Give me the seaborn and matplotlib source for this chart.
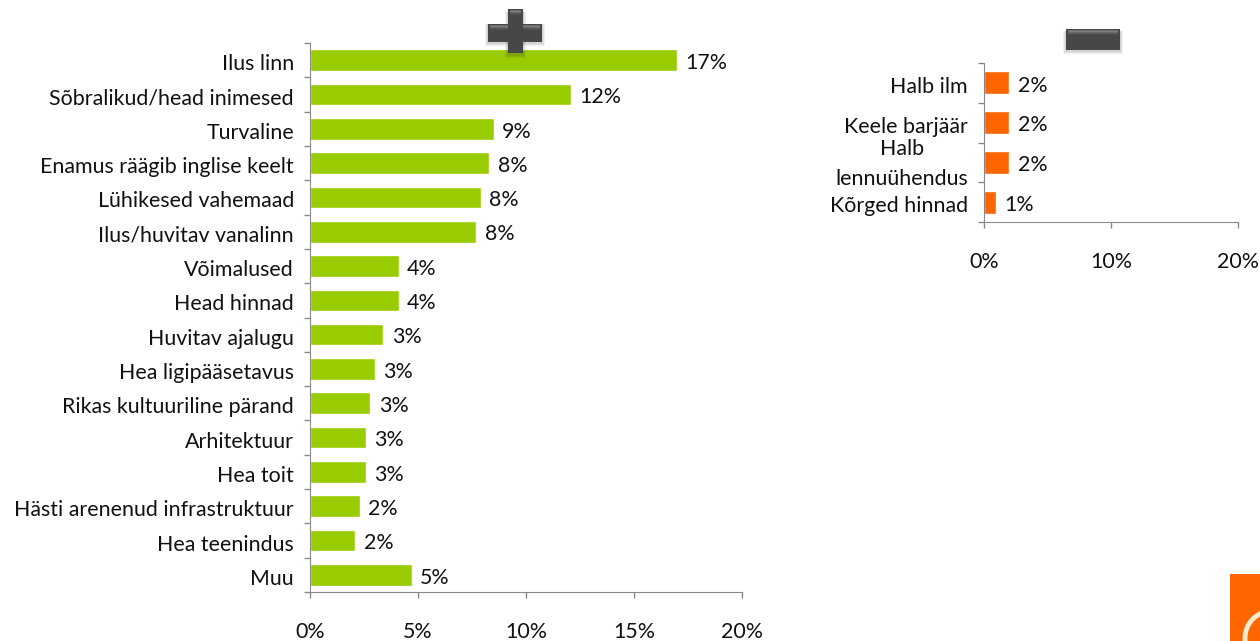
import matplotlib
matplotlib.use('Agg')
import matplotlib.pyplot as plt
from matplotlib.patches import Rectangle, Circle
from matplotlib.ticker import FixedLocator, FuncFormatter
from matplotlib.transforms import IdentityTransform, ScaledTranslation
import seaborn as sns

sns.set_style('white')
plt.rcParams['font.family'] = ['Lato', 'DejaVu Sans']

pos_labels = ['Ilus linn', 'Sõbralikud/head inimesed', 'Turvaline', 'Enamus räägib inglise keelt',
              'Lühikesed vahemaad', 'Ilus/huvitav vanalinn', 'Võimalused', 'Head hinnad',
              'Huvitav ajalugu', 'Hea ligipääsetavus', 'Rikas kultuuriline pärand', 'Arhitektuur',
              'Hea toit', 'Hästi arenenud infrastruktuur', 'Hea teenindus', 'Muu']
pos_values = [17.0, 12.1, 8.5, 8.3, 7.9, 7.7, 4.1, 4.1, 3.4, 3.0, 2.8, 2.6, 2.6, 2.3, 2.1, 4.7]
pos_shown = [17, 12, 9, 8, 8, 8, 4, 4, 3, 3, 3, 3, 3, 2, 2, 5]
pos_ticks = [0, 5, 10, 15, 20]

neg_labels = ['Halb ilm', 'Keele barjäär', 'Halb\nlennuühendus', 'Kõrged hinnad']
neg_values = [2.0, 2.0, 2.0, 0.95]
neg_shown = [2, 2, 2, 1]
neg_ticks = [0, 10, 20]

W, H = 1260, 641
FS = 15.4
fig = plt.figure(figsize=(W / 100, H / 100), dpi=100)


def axes_px(x0, x1, y0, y1):
    return fig.add_axes([x0 / W, 1 - y1 / H, (x1 - x0) / W, (y1 - y0) / H])


def draw(ax, labels, values, shown, ticks, color, width):
    sns.barplot(x=values, y=labels, color=color, saturation=1, width=width, ax=ax)
    ax.set_xlim(0, 20)
    ax.set_ylim(len(labels) - 0.5, -0.5)
    ax.xaxis.set_major_locator(FixedLocator(ticks))
    ax.xaxis.set_major_formatter(FuncFormatter(lambda v, p: f'{v:.0f}%'))
    ax.yaxis.set_minor_locator(FixedLocator([i - 0.5 for i in range(len(labels) + 1)]))
    ax.tick_params(axis='y', which='major', length=0, pad=11.5, labelsize=FS, labelcolor='#111111')
    ax.tick_params(axis='y', which='minor', length=4, width=1, color='#8a8a8a', left=True)
    ax.tick_params(axis='x', length=4, width=1, color='#8a8a8a', pad=17.5, labelsize=FS,
                   labelcolor='#111111', bottom=True)
    for s in ['top', 'right']:
        ax.spines[s].set_visible(False)
    for s in ['left', 'bottom']:
        ax.spines[s].set_color('#8a8a8a')
    texts = ax.bar_label(ax.containers[0], labels=[f'{v}%' for v in shown], padding=6,
                         fontsize=FS, color='#111111')
    for t in texts:
        t.xyann = (6, -2)  # percent labels sit a bit under the bar centre
    ax.set_xlabel('')
    ax.set_ylabel('')
    for t in ax.get_yticklabels():
        two_lines = '\n' in t.get_text()
        shift = 5 if two_lines else -2
        t.set_multialignment('center')
        t.set_linespacing(1.6)
        t.set_transform(t.get_transform() + ScaledTranslation(0, shift / 100, fig.dpi_scale_trans))


ax1 = axes_px(310, 742, 43, 592)
draw(ax1, pos_labels, pos_values, pos_shown, pos_ticks, '#99cc00', 0.63)

ax2 = axes_px(984, 1238, 63, 222)
draw(ax2, neg_labels, neg_values, neg_shown, neg_ticks, '#ff6600', 0.58)


def box(x0, y0, x1, y1, color, alpha=1.0, z=5):
    fig.add_artist(Rectangle((x0 / W, 1 - y1 / H), (x1 - x0) / W, (y1 - y0) / H,
                             transform=fig.transFigure, facecolor=color, edgecolor='none',
                             alpha=alpha, zorder=z))


def bevel(x0, y0, x1, y1):
    # dark block with a lighter top edge fading down
    box(x0, y0, x1, y1, '#474747')
    for i, c in enumerate(['#6e6e6e', '#7c7c7c', '#6a6a6a', '#585858', '#4e4e4e']):
        box(x0 + 2, y0 + 1 + i, x1 - 2, y0 + 2 + i, c)


# plus and minus icons above the charts
for grow in [3, 2, 1]:
    box(488 - grow, 24, 542 + grow, 42 + grow + 1, '#000000', 0.06)
    box(508 - grow, 12, 523 + grow, 53 + grow + 2, '#000000', 0.06)
bevel(488, 24, 542, 42)
bevel(508, 9, 523, 30)
box(508, 30, 523, 53, '#474747')

for grow in [3, 2, 1]:
    box(1066 - grow, 31, 1120 + grow, 50 + grow + 1, '#000000', 0.06)
bevel(1066, 29, 1120, 50)

# logo cut off in the corner
box(1230, 574, 1260, 641, '#ff6600')
fig.add_artist(Circle((1272, 3), 27, facecolor='none', edgecolor='#fdeccd', linewidth=3.5,
                      transform=IdentityTransform(), zorder=6))

fig.savefig('out.png', dpi=100, facecolor='white')
